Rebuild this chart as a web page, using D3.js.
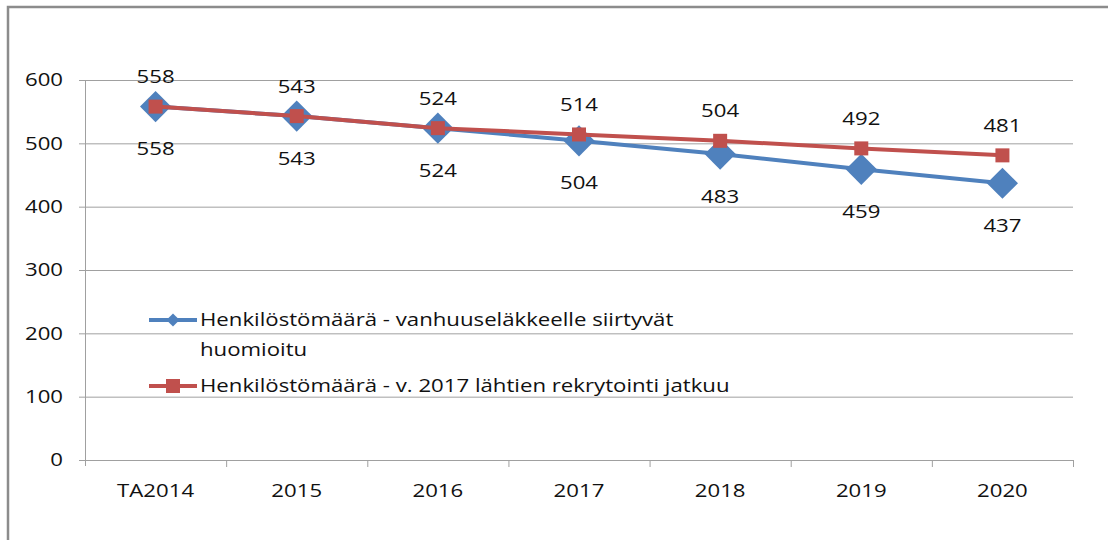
<!DOCTYPE html>
<head>
  <meta charset="utf-8">
  <style>
    body { margin: 0; background: #fff; }
    text { font-family: "Open Sans", Lato, sans-serif; fill: #111; }
  </style>
</head>
<body>
  <div id="chart"></div>
  <script src="https://cdn.jsdelivr.net/npm/d3@7"></script>
  <script>
    var categories = ["TA2014", "2015", "2016", "2017", "2018", "2019", "2020"];
    var blueValues = [558, 543, 524, 504, 483, 459, 437];
    var redValues = [558, 543, 524, 514, 504, 492, 481];
    var yTicks = [0, 100, 200, 300, 400, 500, 600];
    var blueName = ["Henkilöstömäärä - vanhuuseläkkeelle siirtyvät", "huomioitu"];
    var redName = ["Henkilöstömäärä - v. 2017 lähtien rekrytointi jatkuu"];

    var W = 1108, H = 540;
    var plotL = 85, plotR = 1073, plotT = 80, plotB = 460;
    var fs = 18.5, sx = 1.2;   // text is wider than Open Sans, stretch it a bit

    var svg = d3.select("#chart").append("svg")
      .attr("width", W).attr("height", H);

    // puts a text at (px,py) stretched horizontally
    function place(px, py) {
      return "translate(" + px + "," + py + ") scale(" + sx + ",1)";
    }

    // outer frame
    svg.append("path")
      .attr("d", "M8,540 V7 H1108")
      .attr("fill", "none").attr("stroke", "#8c8c8c").attr("stroke-width", 2.5);

    var x = d3.scaleBand().domain(categories).range([plotL, plotR]);
    var y = d3.scaleLinear().domain([0, 600]).range([plotB, plotT]);

    // gridlines
    svg.append("g").selectAll("line").data(yTicks).join("line")
      .attr("x1", plotL - 6).attr("x2", plotR)
      .attr("y1", d => y(d) + 0.5).attr("y2", d => y(d) + 0.5)
      .attr("stroke", "#a0a0a0").attr("stroke-width", 1);

    // y axis line
    svg.append("line")
      .attr("x1", plotL + 0.5).attr("x2", plotL + 0.5)
      .attr("y1", plotT).attr("y2", plotB + 6)
      .attr("stroke", "#a0a0a0");

    // x tick marks at band edges
    var edges = categories.map(c => x(c)).concat([plotR]);
    svg.append("g").selectAll("line").data(edges.slice(1)).join("line")
      .attr("x1", d => d + 0.5).attr("x2", d => d + 0.5)
      .attr("y1", plotB).attr("y2", plotB + 7)
      .attr("stroke", "#a0a0a0");

    svg.append("g").selectAll("text").data(yTicks).join("text")
      .attr("transform", d => place(plotL - 22, y(d)))
      .attr("dy", "0.35em").attr("text-anchor", "end")
      .attr("font-size", fs).text(d => d);

    svg.append("g").selectAll("text").data(categories).join("text")
      .attr("transform", d => place(x(d) + x.bandwidth() / 2, plotB + 31))
      .attr("dy", "0.35em").attr("text-anchor", "middle")
      .attr("font-size", fs).text(d => d);

    var cx = (d, i) => x(categories[i]) + x.bandwidth() / 2;
    var line = d3.line().x(cx).y(d => y(d));

    var blue = "#4f81bd", red = "#c0504d";

    svg.append("path").datum(blueValues)
      .attr("d", line).attr("fill", "none")
      .attr("stroke", blue).attr("stroke-width", 4);
    svg.append("g").selectAll("path").data(blueValues).join("path")
      .attr("d", d3.symbol(d3.symbolDiamond2, 620))
      .attr("transform", (d, i) => "translate(" + cx(d, i) + "," + y(d) + ")")
      .attr("fill", blue);

    svg.append("path").datum(redValues)
      .attr("d", line).attr("fill", "none")
      .attr("stroke", red).attr("stroke-width", 4);
    svg.append("g").selectAll("rect").data(redValues).join("rect")
      .attr("x", (d, i) => cx(d, i) - 7).attr("y", d => y(d) - 7)
      .attr("width", 14).attr("height", 14)
      .attr("fill", red);

    // data labels
    svg.append("g").selectAll("text").data(blueValues).join("text")
      .attr("transform", (d, i) => place(cx(d, i), y(d) + 42))
      .attr("dy", "0.35em").attr("text-anchor", "middle")
      .attr("font-size", fs).text(d => d);
    svg.append("g").selectAll("text").data(redValues).join("text")
      .attr("transform", (d, i) => place(cx(d, i), y(d) - 30))
      .attr("dy", "0.35em").attr("text-anchor", "middle")
      .attr("font-size", fs).text(d => d);

    // legend
    var lg = svg.append("g");
    lg.append("line").attr("x1", 149).attr("x2", 197).attr("y1", 320).attr("y2", 320)
      .attr("stroke", blue).attr("stroke-width", 4);
    lg.append("path").attr("d", d3.symbol(d3.symbolDiamond2, 110))
      .attr("transform", "translate(173,320)").attr("fill", blue);
    lg.selectAll("text.b").data(blueName).join("text").attr("class", "b")
      .attr("transform", (d, i) => place(200, 320 + i * 30))
      .attr("dy", "0.35em").attr("font-size", fs).text(d => d);

    lg.append("line").attr("x1", 149).attr("x2", 197).attr("y1", 386).attr("y2", 386)
      .attr("stroke", red).attr("stroke-width", 4);
    lg.append("rect").attr("x", 166).attr("y", 379).attr("width", 14).attr("height", 14)
      .attr("fill", red);
    lg.selectAll("text.r").data(redName).join("text").attr("class", "r")
      .attr("transform", place(200, 386))
      .attr("dy", "0.35em").attr("font-size", fs).text(d => d);
  </script>
</body>
